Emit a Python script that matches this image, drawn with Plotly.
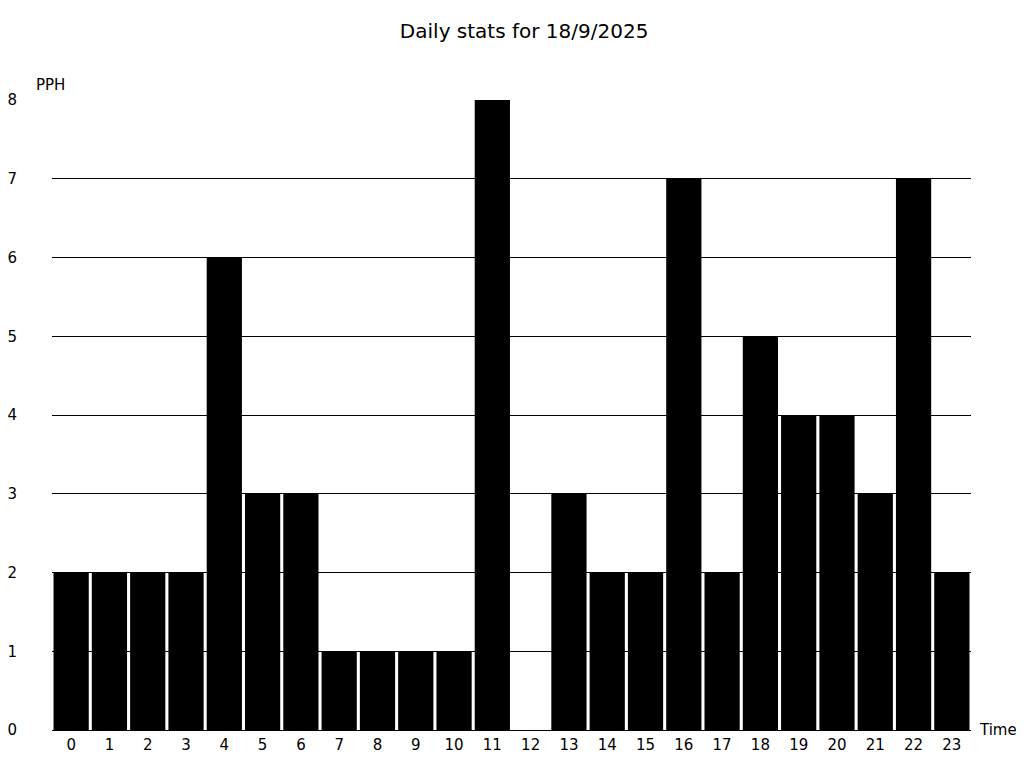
import plotly.graph_objects as go

hours = list(range(24))
pph = [2, 2, 2, 2, 6, 3, 3, 1, 1, 1, 1, 8, 0, 3, 2, 2, 7, 2, 5, 4, 4, 3, 7, 2]
y_ticks = list(range(0, 9))

fig = go.Figure()

fig.add_trace(go.Bar(
    x=hours,
    y=pph,
    marker=dict(color='black', line=dict(width=0)),
    hoverinfo='x+y'
))

# page body has an 8px margin, so the figure is sized to the visible area
fig.update_layout(
    title=dict(text='Daily stats for 18/9/2025', x=0.508, xanchor='center',
               y=0.970, yanchor='middle', font=dict(size=20, color='black')),
    font=dict(family='DejaVu Sans', size=15, color='black'),
    width=1016,
    height=760,
    margin=dict(l=44, r=53, t=92, b=38),
    plot_bgcolor='white',
    paper_bgcolor='white',
    bargap=0.08,
    showlegend=False,
    xaxis=dict(
        tickmode='array',
        tickvals=hours,
        ticktext=[str(h) for h in hours],
        range=[-0.5, 23.5],
        showgrid=False,
        zeroline=False,
        showline=False,
        ticks='',
        ticklabelstandoff=4,
        automargin=False,
    ),
    yaxis=dict(
        tickmode='array',
        tickvals=y_ticks,
        range=[0, 8],
        showgrid=True,
        gridcolor='black',
        gridwidth=1,
        zeroline=True,
        zerolinecolor='black',
        zerolinewidth=1,
        showline=False,
        ticks='',
        ticklabelstandoff=34,
        automargin=False,
    ),
    annotations=[
        dict(text='PPH', xref='paper', yref='paper', x=-0.017, y=1.0,
             xanchor='left', yanchor='bottom', yshift=4, xshift=-2,
             showarrow=False, font=dict(size=15)),
        dict(text='Time', xref='paper', yref='paper', x=1.0, y=0.0,
             xanchor='left', yanchor='middle', xshift=6, showarrow=False,
             font=dict(size=15)),
    ],
)

fig.write_html("out.html")
